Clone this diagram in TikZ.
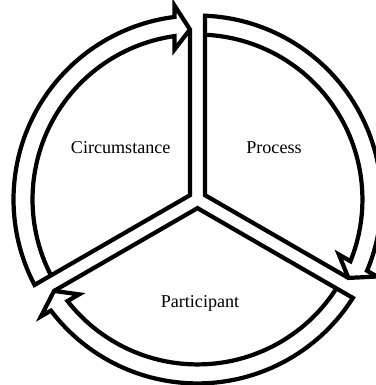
\documentclass[tikz,border=0pt]{standalone}
\usepackage{fontspec}
\setmainfont{Liberation Serif}
\tikzset{segline/.style={draw=black, line width=2.4pt, miter limit=10}}
\tikzset{seglabel/.style={font=\fontsize{10.3}{12}\selectfont, anchor=base}}

\begin{document}
\begin{tikzpicture}[scale=0.02]
    \useasboundingbox (-197.5,-185.5) rectangle (177.5,199.5);

    % one segment per head angle, arrow runs clockwise
    \foreach \h in {90,-30,210}{
        \begin{scope}[rotate=\h]
            \draw[segline] (4.33,7.5) -- ({120-asin(7.5/184)}:184)
                arc[start angle={120-asin(7.5/184)}, end angle={asin(23/184)}, radius=184]
                -- (194,23) -- (170,7.5) -- cycle;
            \draw[segline] ({120-asin(7.5/165)}:165)
                arc[start angle={120-asin(7.5/165)}, end angle={asin(23/165)}, radius=165]
                -- (150,23) -- (170,7.5);
        \end{scope}
    }

    \node[seglabel] (circ) at (-76.8,46.2)  {Circumstance};
    \node[seglabel] (proc) at (76.5,46.2)   {Process};
    \node[seglabel] (part) at (2.5,-107.8)  {Participant};

\end{tikzpicture}
\end{document}
